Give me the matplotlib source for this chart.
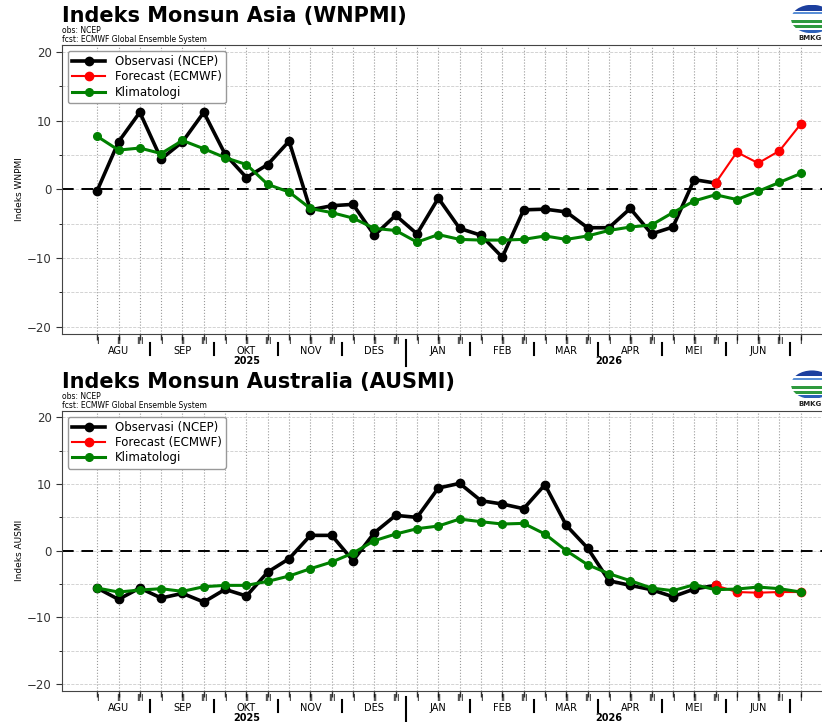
import matplotlib
matplotlib.use("Agg")
import matplotlib.pyplot as plt
import matplotlib.transforms as mtransforms
from matplotlib.patches import Ellipse, Rectangle
import numpy as np

# dasarian axis: AGU I (2025) ... JUL I (2026)
months = ['AGU', 'SEP', 'OKT', 'NOV', 'DES', 'JAN', 'FEB', 'MAR', 'APR', 'MEI', 'JUN']
das_labels = ['I', 'II', 'III'] * len(months) + ['I']
years = ['2025', '2026']
year_start = [0, 15]   # index where each year begins

# WNPMI
wnpmi_obs = [-0.2, 6.9, 11.2, 4.4, 6.9, 11.2, 5.1, 1.7, 3.6, 7.0,
             -3.0, -2.4, -2.2, -6.7, -3.8, -6.5, -1.3, -5.7, -6.7, -9.9,
             -3.0, -2.9, -3.3, -5.6, -5.6, -2.8, -6.5, -5.5, 1.4, 0.9]
wnpmi_fcst = [0.9, 5.4, 3.8, 5.6, 9.5]
wnpmi_clim = [7.7, 5.7, 6.0, 5.2, 7.1, 5.9, 4.6, 3.6, 0.7, -0.4,
              -2.8, -3.4, -4.2, -5.7, -6.0, -7.7, -6.6, -7.3, -7.4, -7.4,
              -7.3, -6.8, -7.3, -6.8, -6.0, -5.5, -5.2, -3.4, -1.7, -0.8,
              -1.5, -0.3, 1.0, 2.3]

# AUSMI
ausmi_obs = [-5.6, -7.3, -5.6, -7.1, -6.4, -7.7, -5.8, -6.8, -3.2, -1.2,
             2.3, 2.3, -1.5, 2.7, 5.3, 5.0, 9.4, 10.1, 7.5, 7.0,
             6.3, 9.9, 3.8, 0.4, -4.5, -5.2, -5.85, -6.9, -5.75, -5.2]
ausmi_fcst = [-5.2, -6.2, -6.3, -6.2, -6.2]
ausmi_clim = [-5.6, -6.2, -5.9, -5.7, -6.1, -5.4, -5.2, -5.2, -4.6, -3.8,
              -2.7, -1.7, -0.35, 1.5, 2.5, 3.3, 3.7, 4.75, 4.35, 4.0,
              4.1, 2.5, 0.0, -2.1, -3.45, -4.5, -5.6, -6.0, -5.1, -5.85,
              -5.75, -5.45, -5.7, -6.2]

W, H = 822, 722
fig = plt.figure(figsize=(W / 100, H / 100), dpi=100)


def draw_logo(x0, y0):
    # rough BMKG logo, partly cut by the right edge like the original
    lax = fig.add_axes([x0 / W, 1 - (y0 + 30) / H, 44 / W, 30 / H])
    lax.set_xlim(0, 1)
    lax.set_ylim(0, 1)
    lax.axis('off')
    ell = Ellipse((0.5, 0.5), 0.95, 0.95, facecolor='white', edgecolor='none')
    lax.add_patch(ell)
    bands = [(0.78, 0.2, '#1c3f9e'), (0.66, 0.08, '#5a8fd6'),
             (0.36, 0.1, '#2e9a3e'), (0.2, 0.09, '#2e9a3e'), (0.05, 0.1, '#2b5fb8')]
    for yb, hb, c in bands:
        r = Rectangle((0, yb), 1, hb, facecolor=c, edgecolor='none')
        lax.add_patch(r)
        r.set_clip_path(ell)
    fig.text((x0 + 20) / W, 1 - (y0 + 34) / H, 'BMKG', fontsize=5, fontweight='bold',
             color='#222', ha='center', va='center')


def draw_panel(top, h, title, ylabel, obs, fcst, clim):
    ax = fig.add_axes([62 / W, 1 - (top + h) / H, 774 / W, h / H])
    x_all = np.arange(len(clim))
    x_obs = np.arange(len(obs))
    x_fc = np.arange(len(obs) - 1, len(obs) - 1 + len(fcst))

    ax.plot(x_obs, obs, '-o', color='black', lw=2.6, ms=6, label='Observasi (NCEP)', zorder=3)
    ax.plot(x_fc, fcst, '-o', color='red', lw=1.5, ms=6, label='Forecast (ECMWF)', zorder=3)
    ax.plot(x_all, clim, '-o', color='green', lw=2.2, ms=5.5, label='Klimatologi', zorder=3)
    ax.axhline(0, color='black', ls='--', lw=1.4, dashes=(6, 4), zorder=2)

    ax.set_xlim(-1.65, 34.65)
    ax.set_ylim(-21, 21)
    ax.set_yticks([-20, -10, 0, 10, 20])
    ax.set_yticks(np.arange(-20, 21, 5), minor=True)
    ax.set_xticks(x_all)
    ax.set_xticklabels([])
    ax.tick_params(axis='y', labelsize=8.5, length=4, colors='#333')
    ax.tick_params(axis='y', which='minor', length=2.5)
    ax.tick_params(axis='x', length=4, width=1, color='#333')
    ax.grid(axis='x', ls=':', color='#999999', lw=0.8)
    ax.grid(axis='y', which='both', ls='--', color='#cccccc', lw=0.6)
    for s in ax.spines.values():
        s.set_color('#444444')

    trans = mtransforms.blended_transform_factory(ax.transData, ax.transAxes)
    for i, lab in enumerate(das_labels):
        ax.text(i, -8 / h, lab, transform=trans, ha='center', va='center',
                fontsize=6, clip_on=False)
    for k, m in enumerate(months):
        ax.text(3 * k + 1, -17.5 / h, m, transform=trans, ha='center', va='center',
                fontsize=7, clip_on=False)
        xs = 3 * k + 2.5
        if (k + 1) * 3 in year_start:
            ax.plot([xs, xs], [-6.5 / h, -32 / h], color='black', lw=1.5,
                    transform=trans, clip_on=False)
        else:
            ax.plot([xs, xs], [-9.5 / h, -21.5 / h], color='black', lw=1.5,
                    transform=trans, clip_on=False)
    bounds = year_start + [len(das_labels)]
    for j, yr in enumerate(years):
        xc = np.mean(np.arange(bounds[j], bounds[j + 1]))
        ax.text(xc, -27 / h, yr, transform=trans, ha='center', va='center',
                fontsize=7, fontweight='bold', clip_on=False)

    ax.legend(loc='upper left', fontsize=8.5, labelspacing=0.2, borderpad=0.35,
              handlelength=2.8, handletextpad=0.8, framealpha=1, edgecolor='#999999')

    fig.text(62 / W, 1 - (top - 23) / H, title, fontsize=15, fontweight='bold', va='baseline')
    fig.text(62 / W, 1 - (top - 12) / H, 'obs: NCEP', fontsize=5.5, va='baseline')
    fig.text(62 / W, 1 - (top - 3) / H, 'fcst: ECMWF Global Ensemble System',
             fontsize=5.5, va='baseline')
    fig.text(19 / W, 1 - (top + h / 2) / H, ylabel, rotation=90, fontsize=6.5,
             ha='center', va='center')
    draw_logo(790, top - 41)
    return ax


draw_panel(45, 288.5, 'Indeks Monsun Asia (WNPMI)', 'Indeks WNPMI',
           wnpmi_obs, wnpmi_fcst, wnpmi_clim)
draw_panel(410.7, 280, 'Indeks Monsun Australia (AUSMI)', 'Indeks AUSMI',
           ausmi_obs, ausmi_fcst, ausmi_clim)

fig.savefig('out.png', dpi=100)
